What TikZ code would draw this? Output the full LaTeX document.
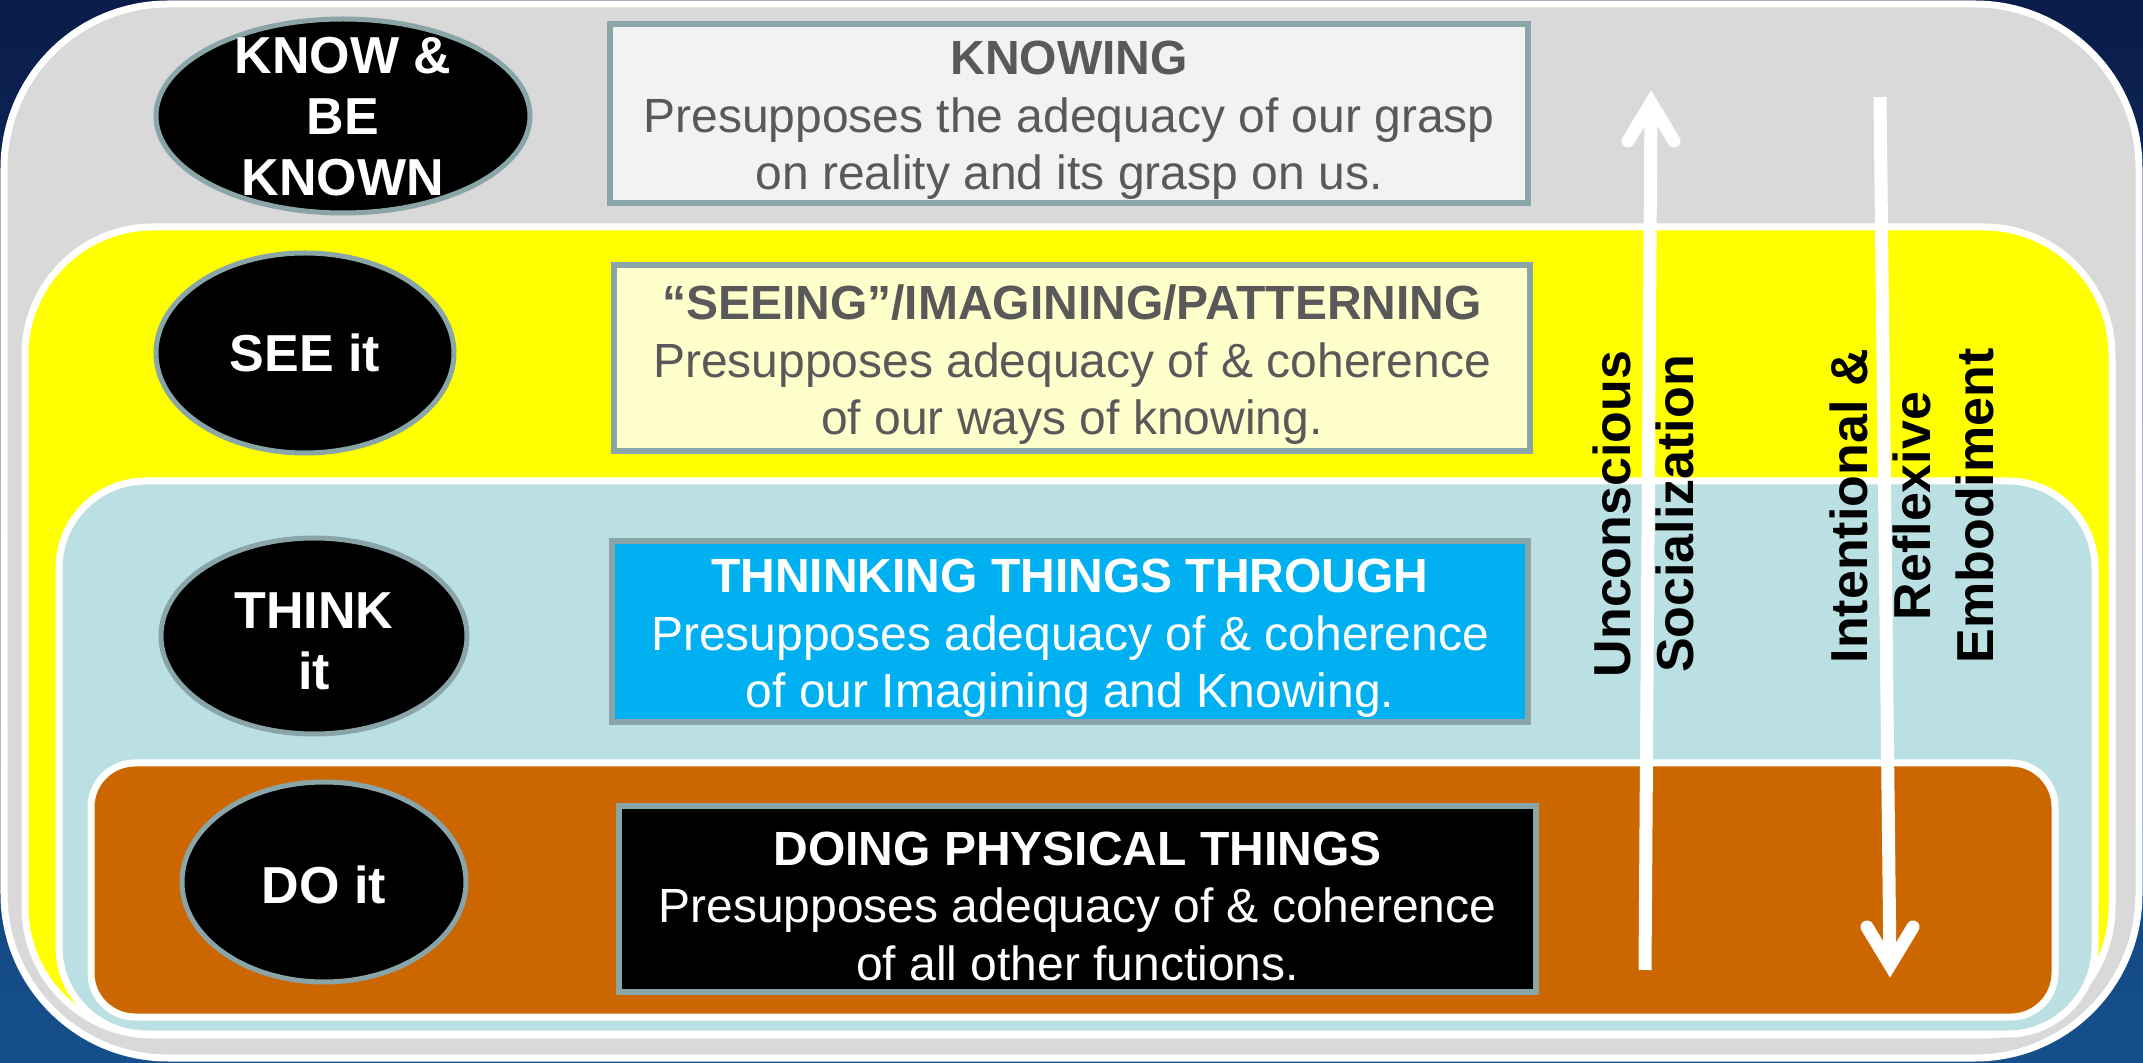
\documentclass[tikz,border=0pt]{standalone}
\usepackage{fontspec}
\setmainfont{Liberation Sans}
\usetikzlibrary{shapes.geometric}
\definecolor{navyA}{HTML}{0A1C4A}
\definecolor{navyB}{HTML}{15508C}
\definecolor{grayfill}{HTML}{D9D9D9}
\definecolor{yel}{HTML}{FFFF00}
\definecolor{lblue}{HTML}{BAE0E3}
\definecolor{orng}{HTML}{CC6600}
\definecolor{tealline}{HTML}{89A5A8}
\definecolor{txtgray}{HTML}{595959}
\definecolor{boxA}{HTML}{F2F2F2}
\definecolor{boxB}{HTML}{FFFFCC}
\definecolor{boxC}{HTML}{00B0F0}
\begin{document}
\begin{tikzpicture}[x=0.5pt,y=-0.5pt,
  band/.style={draw=white, line width=3.5pt},
  oval/.style={ellipse, fill=black, draw=tealline, line width=2.5pt, inner sep=0pt},
  ovaltext/.style={text=white, font=\fontsize{26}{30.5}\selectfont\bfseries, align=center, inner sep=0pt},
  infobox/.style={rectangle, draw=tealline, line width=3pt, inner sep=0pt},
  boxtext/.style={align=center, inner sep=0pt, font=\fontsize{24}{28.75}\selectfont},
  sidetext/.style={rotate=90, font=\fontsize{26}{31.5}\selectfont\bfseries, align=center, text=black, inner sep=0pt},
  flow/.style={draw=white, line width=6.5pt},
  head/.style={draw=white, line width=6.5pt, line cap=round, line join=miter}
]
\useasboundingbox (0,0) rectangle (2143,1063);
% background
\shade[top color=navyA, bottom color=navyB] (0,0) rectangle (2143,1063);
% nested bands
\draw[band, fill=grayfill, rounded corners=82pt] (4,4) rectangle (2139,1058);
\draw[band, fill=yel, rounded corners=64pt] (25,227) rectangle (2112,1035);
\draw[band, fill=lblue, rounded corners=43.5pt] (59,481) rectangle (2095,1034);
\draw[band, fill=orng, rounded corners=22pt] (91,763) rectangle (2055,1017);

% arrows
\coordinate (upS) at (1645,970);
\coordinate (upT) at (1651,103);
\draw[flow] (upS) -- (upT);
\draw[head] (upT) ++(-23,38) -- (upT) -- ++(23,38);
\coordinate (dnS) at (1880,97);
\coordinate (dnT) at (1890,965);
\draw[flow] (dnS) -- (dnT);
\draw[head] (dnT) ++(-23,-38) -- (dnT) -- ++(23,-38);

% ovals
\node[oval, minimum width=187pt, minimum height=97pt] (know) at (343,116) {};
\node[ovaltext] (knowt) at ([yshift=-0.5pt]know.center) {KNOW \&\\BE\\KNOWN};
\node[oval, minimum width=149pt, minimum height=100pt] (see) at (305,353) {};
\node[ovaltext] (seet) at (see) {SEE it};
\node[oval, minimum width=153pt, minimum height=98pt] (think) at (314,636) {};
\node[ovaltext] (thinkt) at ([yshift=-2.5pt]think.center) {THINK\\it};
\node[oval, minimum width=142pt, minimum height=100pt] (do) at (324,882) {};
\node[ovaltext] (dot) at ([yshift=-1.5pt]do.center) {DO it};

% boxes
\node[infobox, fill=boxA, minimum width=459pt, minimum height=89.5pt] (b1) at (1069,113.5) {};
\node[boxtext, text=txtgray] (b1t) at ([yshift=-3.5pt]b1.center)
  {\textbf{KNOWING}\\Presupposes the adequacy of our grasp\\on reality and its grasp on us.};
\node[infobox, fill=boxB, minimum width=458pt, minimum height=93pt] (b2) at (1072,358) {};
\node[boxtext, text=txtgray] (b2t) at ([yshift=-3.5pt]b2.center)
  {\textbf{“SEEING”/IMAGINING/PATTERNING}\\Presupposes adequacy of \& coherence\\of our ways of knowing.};
\node[infobox, fill=boxC, minimum width=458pt, minimum height=90.5pt] (b3) at (1070,631.5) {};
\node[boxtext, text=white] (b3t) at ([yshift=-3.5pt]b3.center)
  {\textbf{THNINKING THINGS THROUGH}\\Presupposes adequacy of \& coherence\\of our Imagining and Knowing.};
\node[infobox, fill=black, minimum width=458.5pt, minimum height=93pt] (b4) at (1077.5,899) {};
\node[boxtext, text=white] (b4t) at ([yshift=-3.5pt]b4.center)
  {\textbf{DOING PHYSICAL THINGS}\\Presupposes adequacy of \& coherence\\of all other functions.};

% side texts
\node[sidetext] (uns) at (1643,514) {Unconscious\\Socialization};
\node[sidetext] (ire) at (1912,506) {Intentional \&\\Reflexive\\Embodiment};
\end{tikzpicture}
\end{document}
